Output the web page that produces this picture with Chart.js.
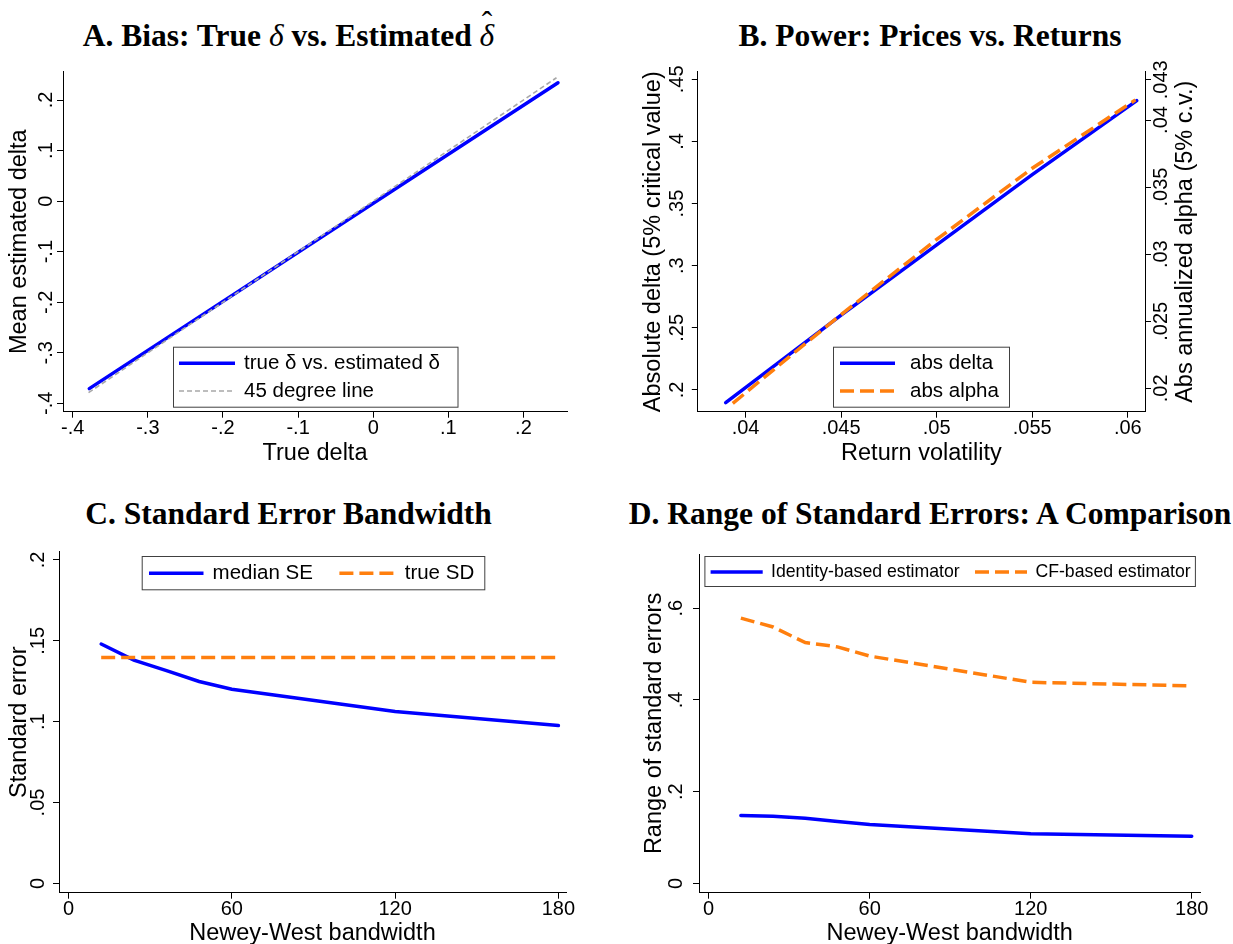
<!DOCTYPE html>
<html>
<head>
<meta charset="utf-8">
<script src="https://cdn.jsdelivr.net/npm/chart.js@4.4.0/dist/chart.umd.min.js"></script>
<style>
body { margin:0; width:1233px; height:944px; overflow:hidden; background:#fff; position:relative; }
canvas { position:absolute; }
.title { position:absolute; width:800px; text-align:center; font-family:'Liberation Serif','Times New Roman',serif;
         font-weight:bold; font-size:31.5px; line-height:31.5px; color:#000; white-space:nowrap; }
.title i { font-weight:normal; }
.hat { position:relative; display:inline-block; font-style:italic; font-weight:normal; }
.hat span { position:absolute; left:0; right:0; top:-0.42em; text-align:center; font-style:normal; }
</style>
</head>
<body>
<div class="title" style="left:-111.5px;top:20.3px">A. Bias: True <i>δ</i> vs. Estimated <span class="hat">δ<span>ˆ</span></span></div>
<div class="title" style="left:530px;top:20.3px">B. Power: Prices vs. Returns</div>
<div class="title" style="left:-111.5px;top:497.9px">C. Standard Error Bandwidth</div>
<div class="title" style="left:530px;top:497.9px">D. Range of Standard Errors: A Comparison</div>

<canvas id="chartA" width="616" height="420" style="left:0;top:56px"></canvas>
<canvas id="chartB" width="617" height="420" style="left:616px;top:56px"></canvas>
<canvas id="chartC" width="616" height="420" style="left:0;top:536px"></canvas>
<canvas id="chartD" width="617" height="420" style="left:616px;top:536px"></canvas>

<script>
////// Data //////
// A. bias
const trueDelta = [-0.378, 0.246];
const estDelta = [-0.371, 0.234];
const line45 = [-0.379, 0.244];
const ticksA = [-0.4, -0.3, -0.2, -0.1, 0, 0.1, 0.2];

// B. power
const volDelta = [0.03896, 0.045, 0.05, 0.055, 0.06047];
const absDelta = [0.1898, 0.2602, 0.3167, 0.3733, 0.4328];
const volAlpha = [0.03933, 0.0425, 0.045, 0.05, 0.055, 0.0604];
const absAlpha = [0.01888, 0.0226, 0.0255, 0.0311, 0.0364, 0.0415];
const ticksBx = [0.04, 0.045, 0.05, 0.055, 0.06];
const ticksBy = [0.2, 0.25, 0.3, 0.35, 0.4, 0.45];
const ticksBy2 = [0.02, 0.025, 0.03, 0.035, 0.04, 0.043];

// C and D. bandwidth
const bandwidth = [12, 24, 36, 48, 60, 120, 180];
const medianSE = [0.148, 0.138, 0.1315, 0.1248, 0.120, 0.1063, 0.0976];
const trueSD = [0.1397, 0.1397, 0.1397, 0.1397, 0.1397, 0.1397, 0.1397];
const identitySE = [0.1478, 0.1463, 0.142, 0.1348, 0.1283, 0.1082, 0.103];
const cfSE = [0.5784, 0.5589, 0.525, 0.5156, 0.4955, 0.4384, 0.4306];
const ticksBw = [0, 60, 120, 180];
const ticksC = [0, 0.05, 0.1, 0.15, 0.2];
const ticksD = [0, 0.2, 0.4, 0.6];

const BLUE = '#0000ff';
const ORANGE = '#ff7f0e';
const sans = "'Liberation Sans', Arial, sans-serif";

////// helpers //////
function stataLabel(v) {
    var s = String(Math.round(v * 10000) / 10000);
    return s.replace(/^0\./, '.').replace(/^-0\./, '-.');
}

function fixedTicks(list) {
    return function(scale) {
        scale.ticks = list.map(function(v) { return {value: v}; });
    };
}

function points(xs, ys) {
    return xs.map(function(x, i) { return {x: x, y: ys[i]}; });
}

function xAxis(min, max, list, title, titlePad) {
    return {
        type: 'linear', position: 'bottom', min: min, max: max,
        afterBuildTicks: fixedTicks(list),
        afterFit: function(scale) { scale.height = 60; },
        grid: {drawOnChartArea: false, drawTicks: true, tickLength: 6, color: '#000', lineWidth: 1},
        border: {display: true, color: '#000', width: 1},
        ticks: {color: '#000', padding: 0.5, autoSkip: false, maxRotation: 0,
                font: {family: sans, size: 20, lineHeight: 1}, callback: stataLabel},
        title: {display: true, text: title, color: '#000',
                font: {family: sans, size: 23.5, lineHeight: 1}, padding: {top: 0, bottom: titlePad}}
    };
}

function yAxis(pos, min, max, list, title, width, tickPad, titlePad) {
    return {
        type: 'linear', position: pos, min: min, max: max,
        afterBuildTicks: fixedTicks(list),
        afterFit: function(scale) { scale.width = width; },
        grid: {drawOnChartArea: false, drawTicks: true, tickLength: 6, color: '#000', lineWidth: 1},
        border: {display: true, color: '#000', width: 1},
        ticks: {color: '#000', padding: tickPad, crossAlign: 'center', minRotation: 90, maxRotation: 90,
                autoSkip: false, font: {family: sans, size: 20, lineHeight: 1}, callback: stataLabel},
        title: {display: pos === 'left', text: title, color: '#000',
                font: {family: sans, size: 23.5, lineHeight: 1}, padding: {top: titlePad, bottom: 0}}
    };
}

////// legend drawn inside the plot, Stata style //////
const insideLegend = {
    id: 'insideLegend',
    afterDraw: function(chart, args, opts) {
        var ctx = chart.ctx;
        ctx.save();
        ctx.fillStyle = '#fff';
        ctx.fillRect(opts.box[0], opts.box[1], opts.box[2], opts.box[3]);
        ctx.strokeStyle = '#404040';
        ctx.lineWidth = 1;
        ctx.strokeRect(opts.box[0] + 0.5, opts.box[1] + 0.5, opts.box[2], opts.box[3]);
        opts.items.forEach(function(it, i) {
            var ds = chart.data.datasets[i];
            ctx.strokeStyle = ds.borderColor;
            ctx.lineWidth = ds.borderWidth;
            ctx.setLineDash(ds.borderDash || []);
            ctx.beginPath();
            ctx.moveTo(it[0], it[3]);
            ctx.lineTo(it[1], it[3]);
            ctx.stroke();
            ctx.setLineDash([]);
            ctx.fillStyle = '#000';
            ctx.font = opts.size + 'px ' + sans;
            ctx.textBaseline = 'middle';
            ctx.textAlign = 'left';
            ctx.fillText(ds.label, it[2], it[3]);
        });
        ctx.restore();
    }
};

// right axis title reads bottom to top, like the left one
const rightTitle = {
    id: 'rightTitle',
    afterDraw: function(chart, args, opts) {
        if (!opts.text) return;
        var s = chart.scales[opts.axis];
        var ctx = chart.ctx;
        ctx.save();
        ctx.translate(s.left + opts.offset, (chart.chartArea.top + chart.chartArea.bottom) / 2);
        ctx.rotate(-Math.PI / 2);
        ctx.font = '23.5px ' + sans;
        ctx.fillStyle = '#000';
        ctx.textAlign = 'center';
        ctx.textBaseline = 'middle';
        ctx.fillText(opts.text, 0, 0);
        ctx.restore();
    }
};

function baseOptions(padding) {
    return {
        responsive: false, animation: false, devicePixelRatio: 1,
        layout: {padding: padding},
        elements: {point: {radius: 0}, line: {tension: 0}},
        plugins: {legend: {display: false}, tooltip: {enabled: false}}
    };
}

////// A. Bias //////
var optA = baseOptions({left: 0, top: 15.7, right: 49, bottom: 4.3});
optA.scales = {
    x: xAxis(-0.413, 0.258, ticksA, 'True delta', 6.65),
    y: yAxis('left', -0.4166, 0.256, ticksA, 'Mean estimated delta', 63, -1, 7.95)
};
optA.plugins.insideLegend = {box: [173, 290.7, 284.5, 60], size: 20.5,
    items: [[179, 235, 244, 307.3], [179, 235, 244, 335]]};
new Chart(document.getElementById('chartA'), {
    type: 'line',
    data: {datasets: [
        {label: 'true δ vs. estimated δ', data: points(trueDelta, estDelta), borderColor: BLUE,
         borderWidth: 3.5, borderCapStyle: 'round', order: 1},
        {label: '45 degree line', data: points(line45, line45), borderColor: '#a8a8a8',
         borderWidth: 1.6, borderDash: [5, 3], order: 0}
    ]},
    options: optA,
    plugins: [insideLegend]
});

////// B. Power //////
var optB = baseOptions({left: 0, top: 15.7, right: 28, bottom: 4.3});
optB.scales = {
    x: xAxis(0.0375, 0.0609, ticksBx, 'Return volatility', 6.65),
    y: yAxis('left', 0.1825, 0.4561, ticksBy, 'Absolute delta (5% critical value)', 81.8, 0.6, 26.25),
    y2: yAxis('right', 0.01826, 0.0436, ticksBy2, '', 60, -8.76, 0)
};
optB.plugins.insideLegend = {box: [217, 290.7, 176, 60], size: 20.5,
    items: [[224, 279, 294, 307.3], [224, 279, 294, 335]]};
optB.plugins.rightTitle = {axis: 'y2', offset: 40.8, text: 'Abs annualized alpha (5% c.v.)'};
new Chart(document.getElementById('chartB'), {
    type: 'line',
    data: {datasets: [
        {label: 'abs delta', data: points(volDelta, absDelta), yAxisID: 'y', borderColor: BLUE,
         borderWidth: 3.5, borderCapStyle: 'round', order: 1},
        {label: 'abs alpha', data: points(volAlpha, absAlpha), yAxisID: 'y2', borderColor: ORANGE,
         borderWidth: 3.5, borderDash: [14, 6], order: 0}
    ]},
    options: optB,
    plugins: [insideLegend, rightTitle]
});

////// C. Standard error bandwidth //////
var optC = baseOptions({left: 0, top: 15.7, right: 50, bottom: 3.3});
optC.scales = {
    x: xAxis(-3.5, 182.8, ticksBw, 'Newey-West bandwidth', 7.65),
    y: yAxis('left', -0.0058, 0.2051, ticksC, 'Standard error', 59, 0.5, 7.95)
};
optC.plugins.insideLegend = {box: [141.7, 20, 342.6, 33.3], size: 20.5,
    items: [[149, 203.5, 212.6, 37.3], [339.4, 395, 404.7, 37.3]]};
new Chart(document.getElementById('chartC'), {
    type: 'line',
    data: {datasets: [
        {label: 'median SE', data: points(bandwidth, medianSE), borderColor: BLUE,
         borderWidth: 3.5, borderCapStyle: 'round', order: 1},
        {label: 'true SD', data: points(bandwidth, trueSD), borderColor: ORANGE,
         borderWidth: 3.5, borderDash: [14, 6], order: 0}
    ]},
    options: optC,
    plugins: [insideLegend]
});

////// D. Range of standard errors //////
var optD = baseOptions({left: 0, top: 15.7, right: 32.7, bottom: 3.3});
optD.scales = {
    x: xAxis(-3.6, 183.2, ticksBw, 'Newey-West bandwidth', 7.65),
    y: yAxis('left', -0.0203, 0.7175, ticksD, 'Range of standard errors', 83, 8.26, 26.75)
};
optD.plugins.insideLegend = {box: [88.4, 20, 490.5, 30], size: 17.7,
    items: [[94.6, 146.7, 155, 36], [359, 411, 419.4, 36]]};
new Chart(document.getElementById('chartD'), {
    type: 'line',
    data: {datasets: [
        {label: 'Identity-based estimator', data: points(bandwidth, identitySE), borderColor: BLUE,
         borderWidth: 3.5, borderCapStyle: 'round'},
        {label: 'CF-based estimator', data: points(bandwidth, cfSE), borderColor: ORANGE,
         borderWidth: 3.5, borderDash: [14, 6]}
    ]},
    options: optD,
    plugins: [insideLegend]
});
</script>
</body>
</html>
